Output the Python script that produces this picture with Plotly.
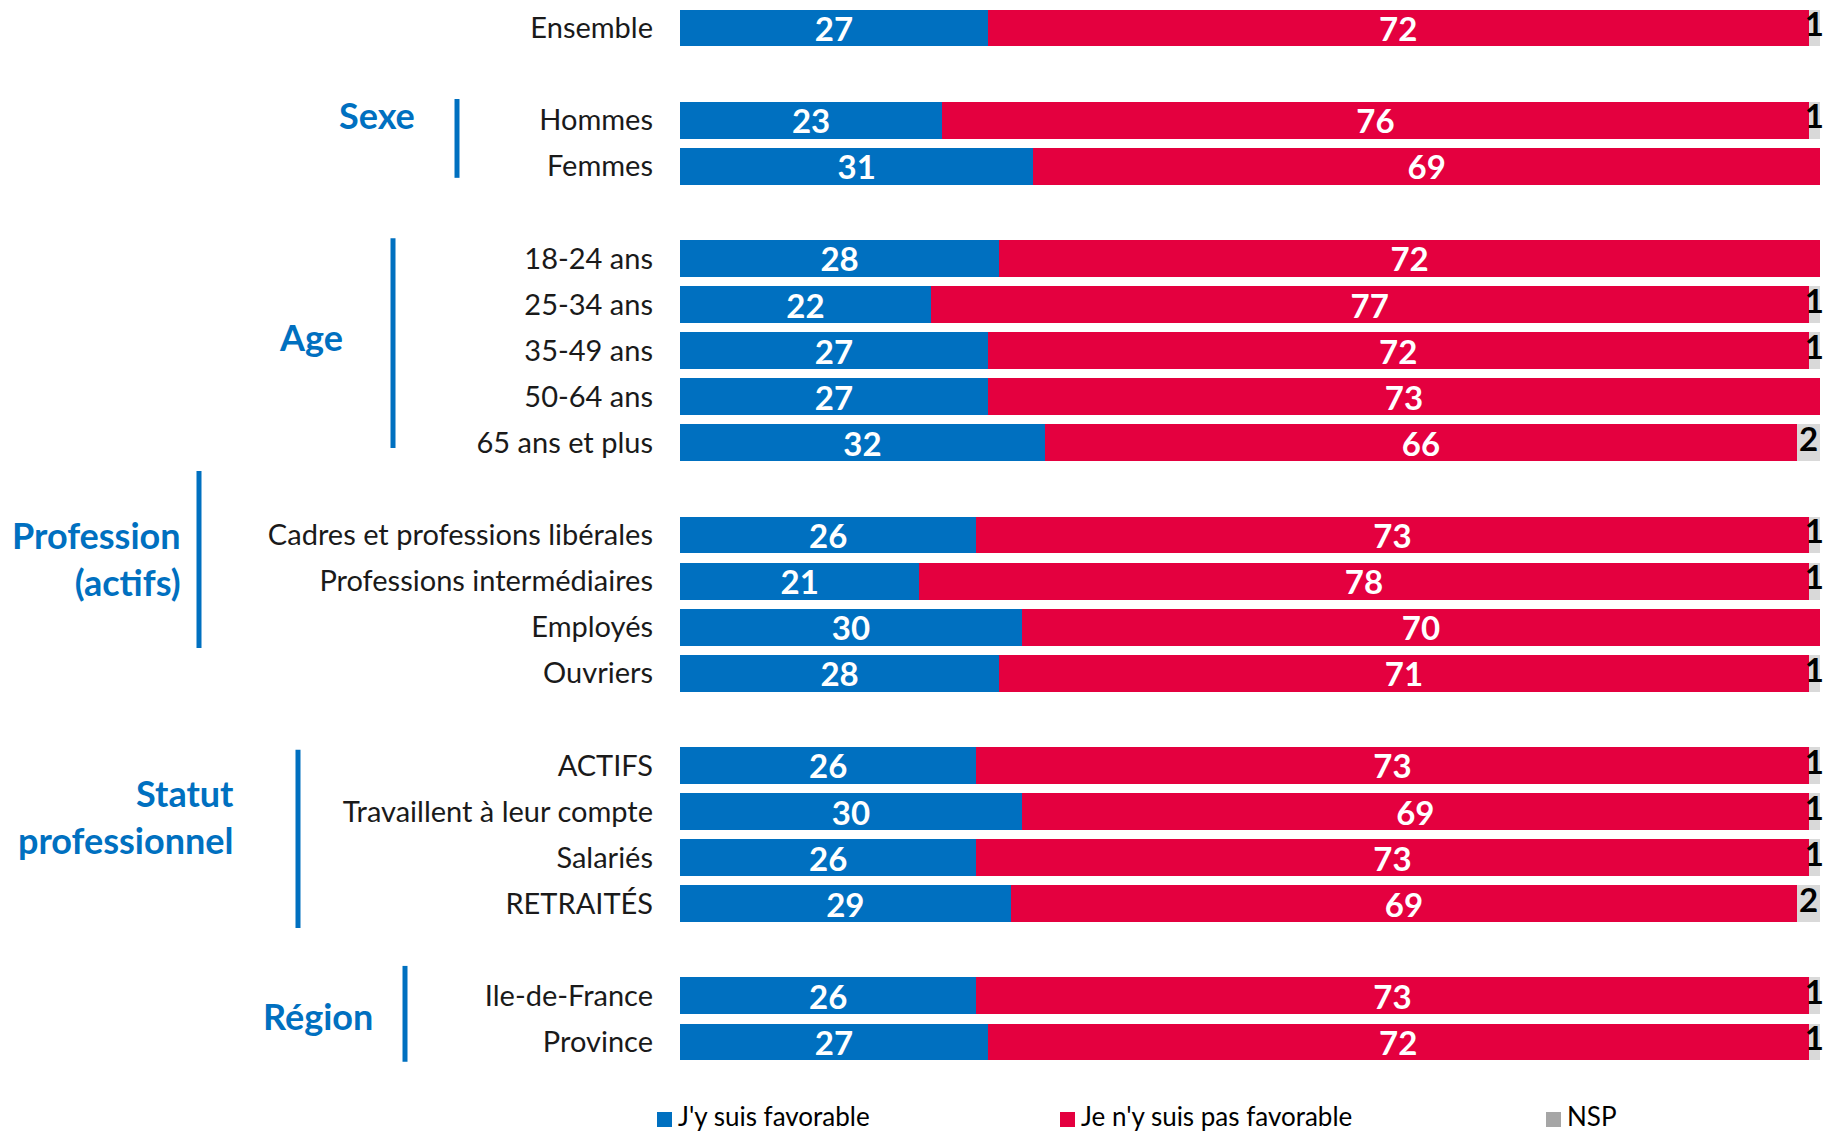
import plotly.graph_objects as go

# ---- data ----
categories = ["Ensemble", "Hommes", "Femmes", "18-24 ans", "25-34 ans", "35-49 ans",
              "50-64 ans", "65 ans et plus", "Cadres et professions libérales",
              "Professions intermédiaires", "Employés", "Ouvriers", "ACTIFS",
              "Travaillent à leur compte", "Salariés", "RETRAITÉS",
              "Ile-de-France", "Province"]
slots = [0, 2, 3, 5, 6, 7, 8, 9, 11, 12, 13, 14, 16, 17, 18, 19, 21, 22]
favorable = [27, 23, 31, 28, 22, 27, 27, 32, 26, 21, 30, 28, 26, 30, 26, 29, 26, 27]
pas_favorable = [72, 76, 69, 72, 77, 72, 73, 66, 73, 78, 70, 71, 73, 69, 73, 69, 73, 72]
nsp = [1, 1, 0, 0, 1, 1, 0, 2, 1, 1, 0, 1, 1, 1, 1, 2, 1, 1]

series_names = ["J'y suis favorable", "Je n'y suis pas favorable", "NSP"]

groups = ["Sexe", "Age", "Profession<br>(actifs)", "Statut<br>professionnel", "Région"]
group_label_y = [1.89, 6.70, 11.5, 17.1, 21.44]
group_line_y = [(1.54, 3.25), (4.56, 9.11), (9.61, 13.45), (15.66, 19.53), (20.35, 22.43)]

BLUE = "#0070c0"
RED = "#e4003f"
GREY_BAR = "#d9d9d9"
GREY_LEG = "#a6a6a6"
FONT = "Lato"

W, H = 1824, 1135
L, R, T, B = 680, 4, 5, 70
PW = W - L - R


def px2paper(px):
    return (px - L) / PW


fig = go.Figure()
for vals, col, nm in [(favorable, BLUE, series_names[0]), (pas_favorable, RED, series_names[1])]:
    fig.add_trace(go.Bar(
        y=slots, x=vals, orientation="h", name=nm,
        marker=dict(color=col, line=dict(width=0)), width=0.8,
        text=vals, textposition="inside", insidetextanchor="middle", textangle=0,
        textfont=dict(family=FONT, size=33, color="white", weight="bold"),
        constraintext="none", showlegend=False))
fig.add_trace(go.Bar(
    y=slots, x=nsp, orientation="h", name=series_names[2],
    marker=dict(color=GREY_BAR, line=dict(width=0)), width=0.8,
    showlegend=False, hoverinfo="skip"))

# NSP labels centred on grey segment
nsp_x = [f + p + n / 2 for f, p, n in zip(favorable, pas_favorable, nsp) if n > 0]
nsp_y = [s for s, n in zip(slots, nsp) if n > 0]
nsp_t = [str(n) for n in nsp if n > 0]
fig.add_trace(go.Scatter(
    x=nsp_x, y=nsp_y, text=nsp_t, mode="text", textposition="middle center",
    textfont=dict(family=FONT, size=33, color="black", weight="bold"),
    showlegend=False, hoverinfo="skip", cliponaxis=False))

shapes = []
annotations = []
line_x_px = [457, 393, 199, 298, 405]
label_x_px = [417, 345, 183, 236, 375]
for g, gy, (y0, y1), lx, tx in zip(groups, group_label_y, group_line_y, line_x_px, label_x_px):
    shapes.append(dict(type="line", xref="paper", yref="y",
                       x0=px2paper(lx), x1=px2paper(lx), y0=y0, y1=y1,
                       line=dict(color=BLUE, width=5)))
    annotations.append(dict(xref="paper", yref="y", x=px2paper(tx), y=gy,
                            text=g, showarrow=False, xanchor="right", yanchor="middle",
                            align="right",
                            font=dict(family=FONT, size=36, color=BLUE, weight="bold")))

# custom legend
leg_items = [(BLUE, series_names[0], 657), (RED, series_names[1], 1060), (GREY_LEG, series_names[2], 1546)]
leg_y_px = 1116
for col, name, x0 in leg_items:
    shapes.append(dict(type="rect", xref="paper", yref="paper",
                       x0=px2paper(x0), x1=px2paper(x0 + 15),
                       y0=(H - B - (leg_y_px + 11)) / (H - T - B), y1=(H - B - (leg_y_px - 4)) / (H - T - B),
                       fillcolor=col, line=dict(width=0)))
    annotations.append(dict(xref="paper", yref="paper", x=px2paper(x0 + 19),
                            y=(H - B - leg_y_px) / (H - T - B), text=name, showarrow=False,
                            xanchor="left", yanchor="middle",
                            font=dict(family=FONT, size=26, color="black")))

fig.update_layout(
    width=W, height=H, barmode="stack", bargap=0.2,
    margin=dict(l=L, r=R, t=T, b=B, pad=0),
    paper_bgcolor="white", plot_bgcolor="white",
    xaxis=dict(range=[0, 100], visible=False, fixedrange=True),
    yaxis=dict(range=[22.5, -0.5], tickvals=slots, ticktext=categories,
               showgrid=False, zeroline=False, showline=False, ticks="",
               ticklabelstandoff=26, fixedrange=True,
               tickfont=dict(family=FONT, size=29, color="#1a1a1a")),
    shapes=shapes, annotations=annotations, showlegend=False,
    font=dict(family=FONT),
)

fig.write_html("out.html", config={"displayModeBar": False},
               post_script="document.body.style.margin='0';")
